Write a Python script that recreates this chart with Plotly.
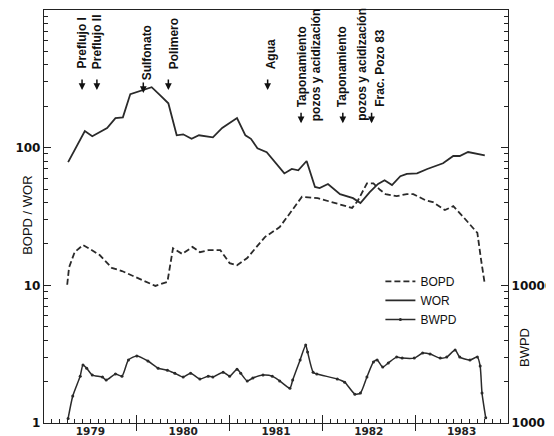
import plotly.graph_objects as go

# ---- data (decimal year, value) ----
bopd_t = [1979.25, 1979.27, 1979.33, 1979.42, 1979.50, 1979.60, 1979.73, 1979.84, 1979.96,
          1980.07, 1980.20, 1980.33, 1980.39, 1980.49, 1980.60, 1980.68, 1980.77, 1980.90,
          1981.00, 1981.08, 1981.19, 1981.38, 1981.54, 1981.65, 1981.78, 1981.95, 1982.16,
          1982.32, 1982.38, 1982.48, 1982.55, 1982.62, 1982.68, 1982.80, 1982.91, 1982.98,
          1983.11, 1983.19, 1983.32, 1983.41, 1983.52, 1983.67, 1983.71, 1983.75]
bopd_v = [10.1, 13.5, 17.4, 19.6, 18.3, 16.6, 13.4, 12.7, 11.7,
          10.9, 9.9, 10.6, 18.6, 16.9, 19.0, 17.4, 18.0, 18.0,
          14.5, 14.0, 15.8, 22.4, 26.5, 33.4, 44.0, 43.0, 39.0,
          36.5, 41.0, 55.0, 55.0, 49.4, 46.0, 44.5, 46.0, 46.0,
          41.5, 40.3, 35.2, 37.6, 31.3, 24.0, 15.3, 10.2]

wor_t = [1979.26, 1979.44, 1979.52, 1979.60, 1979.68, 1979.77, 1979.85, 1979.93, 1980.03,
         1980.16, 1980.25, 1980.34, 1980.43, 1980.50, 1980.59, 1980.67, 1980.82, 1980.92,
         1981.08, 1981.17, 1981.23, 1981.30, 1981.40, 1981.54, 1981.59, 1981.67, 1981.74,
         1981.83, 1981.92, 1981.97, 1982.06, 1982.19, 1982.27, 1982.33, 1982.41, 1982.51,
         1982.60, 1982.67, 1982.75, 1982.84, 1982.91, 1983.02, 1983.13, 1983.30, 1983.41,
         1983.48, 1983.57, 1983.64, 1983.75]
wor_v = [78.6, 132, 121, 130, 139, 164, 166, 245, 258,
         275, 241, 210, 123, 125, 116, 123, 119, 139,
         164, 123, 116, 99, 92.7, 72, 65, 70, 68.5,
         80, 51.8, 50.9, 54.5, 46, 44, 43, 39.6, 47.6,
         54.5, 58, 53.5, 62, 64.6, 65, 70, 77, 87,
         87, 93, 91, 88]

bwpd_t = [1979.26, 1979.31, 1979.39, 1979.42, 1979.46, 1979.52, 1979.63, 1979.67, 1979.77, 1979.84,
          1979.91, 1980.00, 1980.12, 1980.23, 1980.33, 1980.41, 1980.50, 1980.58, 1980.68, 1980.77,
          1980.82, 1980.93, 1981.00, 1981.08, 1981.12, 1981.19, 1981.25, 1981.36, 1981.46, 1981.54,
          1981.65, 1981.68, 1981.76, 1981.82, 1981.84, 1981.90, 1981.94, 1982.16, 1982.24, 1982.35,
          1982.41, 1982.48, 1982.55, 1982.59, 1982.65, 1982.71, 1982.80, 1982.86, 1982.99, 1983.08,
          1983.16, 1983.27, 1983.34, 1983.43, 1983.48, 1983.59, 1983.67, 1983.70, 1983.72, 1983.76]
bwpd_v = [1080, 1570, 2190, 2640, 2500, 2230, 2160, 2050, 2270, 2190,
          2870, 3070, 2820, 2500, 2420, 2300, 2160, 2300, 2090, 2190,
          2160, 2340, 2190, 2460, 2300, 2020, 2120, 2230, 2190, 2020,
          1790, 2050, 2870, 3690, 3280, 2340, 2270, 2090, 1980, 1620,
          1650, 2160, 2770, 2870, 2550, 2730, 3010, 2960, 2960, 3220,
          3170, 2960, 3010, 3390, 3010, 2870, 3010, 2590, 1650, 1090]

years = [1979, 1980, 1981, 1982, 1983]
year_labels = ["1979", "1980", "1981", "1982", "1983"]

# event labels: (text, x, bottom of text in paper units)
event_texts = [
    ("Preflujo I", 1979.41, 0.855),
    ("Preflujo II", 1979.58, 0.855),
    ("Sulfonato", 1980.11, 0.826),
    ("Polimero", 1980.41, 0.855),
    ("Agua", 1981.44, 0.855),
    ("Taponamiento", 1981.78, 0.763),
    ("pozos y acidización", 1981.94, 0.729),
    ("Taponamiento", 1982.22, 0.763),
    ("pozos y acidización", 1982.43, 0.729),
    ("Frac. Pozo 83", 1982.62, 0.763),
]
# event arrows: (x, tip in paper units)
event_arrows = [
    (1979.41, 0.806), (1979.57, 0.806), (1980.07, 0.799), (1980.34, 0.806),
    (1981.41, 0.806), (1981.77, 0.726), (1982.22, 0.726), (1982.53, 0.726),
]

FONT = "Liberation Sans, Arial, sans-serif"
TICKFONT = dict(family="DejaVu Sans, Arial", size=12, color="#111", weight="bold")
LC = "#2a2a2a"

fig = go.Figure()
fig.add_trace(go.Scatter(x=bopd_t, y=bopd_v, name="BOPD", mode="lines",
                         line=dict(color=LC, width=1.8, dash="6px,3px")))
fig.add_trace(go.Scatter(x=wor_t, y=wor_v, name="WOR", mode="lines",
                         line=dict(color=LC, width=1.8)))
fig.add_trace(go.Scatter(x=bwpd_t, y=bwpd_v, name="BWPD", mode="lines+markers", yaxis="y2",
                         line=dict(color=LC, width=1.5, shape="spline", smoothing=0.6),
                         marker=dict(color=LC, size=3)))

month_ticks = [y + m / 12 for y in range(1979, 1984) for m in range(1, 12)]
minor_left = [m * 10 ** d for d in range(0, 3) for m in range(2, 10)]
minor_right = [m * 10 ** d for d in range(3, 6) for m in range(2, 10)]

# page body has an 8px margin: the figure is sized so it fills the 554x436 window exactly
fig.update_layout(
    width=546, height=428,
    margin=dict(l=36, r=46, t=2, b=13, autoexpand=False),
    paper_bgcolor="white", plot_bgcolor="white",
    showlegend=True,
    legend=dict(x=0.725, y=0.378, xanchor="left", yanchor="top",
                font=dict(family=FONT, size=12, color="#111"),
                bgcolor="rgba(0,0,0,0)", tracegroupgap=0, itemwidth=30),
    xaxis=dict(range=[1979, 1984], tickvals=years[1:], showticklabels=False,
               ticks="inside", ticklen=8, tickcolor="#222", tickwidth=1.3,
               minor=dict(tickvals=month_ticks, ticks="inside", ticklen=4, tickcolor="#222", tickwidth=1),
               showline=True, linecolor="#222", linewidth=1.3, mirror=True,
               showgrid=False, zeroline=False, automargin=False),
    xaxis2=dict(range=[1979, 1984], overlaying="x", anchor="y", side="bottom",
                tickvals=years[1:], showticklabels=False,
                ticks="outside", ticklen=7, tickcolor="#222", tickwidth=1.3,
                showgrid=False, zeroline=False, showline=False, automargin=False),
    xaxis3=dict(range=[1979, 1984], overlaying="x", anchor="y", side="bottom",
                tickvals=[y + 0.5 for y in years], ticktext=year_labels,
                ticks="", tickfont=dict(family="DejaVu Sans", size=10.5, color="#222", weight="bold"),
                showgrid=False, zeroline=False, showline=False, automargin=False),
    yaxis=dict(type="log", range=[0, 3], tickvals=[1, 10, 100], ticktext=["1", "10", "100"],
               ticks="inside", ticklen=7, tickcolor="#222", tickwidth=1.3,
               tickfont=TICKFONT,
               minor=dict(tickvals=minor_left, ticks="inside", ticklen=4, tickcolor="#222", tickwidth=1),
               showline=True, linecolor="#222", linewidth=1.3,
               showgrid=False, zeroline=False, automargin=False),
    yaxis2=dict(type="log", range=[3, 6], overlaying="y", side="right", anchor="x",
                tickvals=[1000, 10000, 100000], ticktext=["1000", "10000", ""],
                ticks="inside", ticklen=7, tickcolor="#222", tickwidth=1.3,
                tickfont=TICKFONT,
                minor=dict(tickvals=minor_right, ticks="inside", ticklen=4, tickcolor="#222", tickwidth=1),
                showline=True, linecolor="#222", linewidth=1.3,
                showgrid=False, zeroline=False, automargin=False),
)

# invisible helpers so the overlay x-axes are drawn
fig.add_trace(go.Scatter(x=[1979], y=[1], xaxis="x2", mode="markers", marker=dict(opacity=0),
                         showlegend=False, hoverinfo="skip"))
fig.add_trace(go.Scatter(x=[1979], y=[1], xaxis="x3", mode="markers", marker=dict(opacity=0),
                         showlegend=False, hoverinfo="skip"))

AFONT = dict(family=FONT, size=12, color="#111", weight="bold")
for label, tx, ty in event_texts:
    fig.add_annotation(x=tx, y=ty, xref="x", yref="paper", text=label, textangle=-90,
                       showarrow=False, xanchor="center", yanchor="bottom", font=AFONT,
                       borderpad=0)
for axx, tip in event_arrows:
    fig.add_annotation(x=axx, y=tip, xref="x", yref="paper", text="", showarrow=True,
                       ax=0, ay=-12, arrowhead=2, arrowsize=0.9, arrowwidth=1.5, arrowcolor="#111")

# axis titles
fig.add_annotation(x=-0.0345, y=0.504, xref="paper", yref="paper", text="BOPD / WOR",
                   textangle=-90, showarrow=False, xanchor="center", yanchor="middle",
                   font=dict(family=FONT, size=13, color="#111"))
fig.add_annotation(x=1.037, y=0.182, xref="paper", yref="paper", text="BWPD",
                   textangle=-90, showarrow=False, xanchor="center", yanchor="middle",
                   font=dict(family=FONT, size=13, color="#111"))

fig.write_html("out.html")
